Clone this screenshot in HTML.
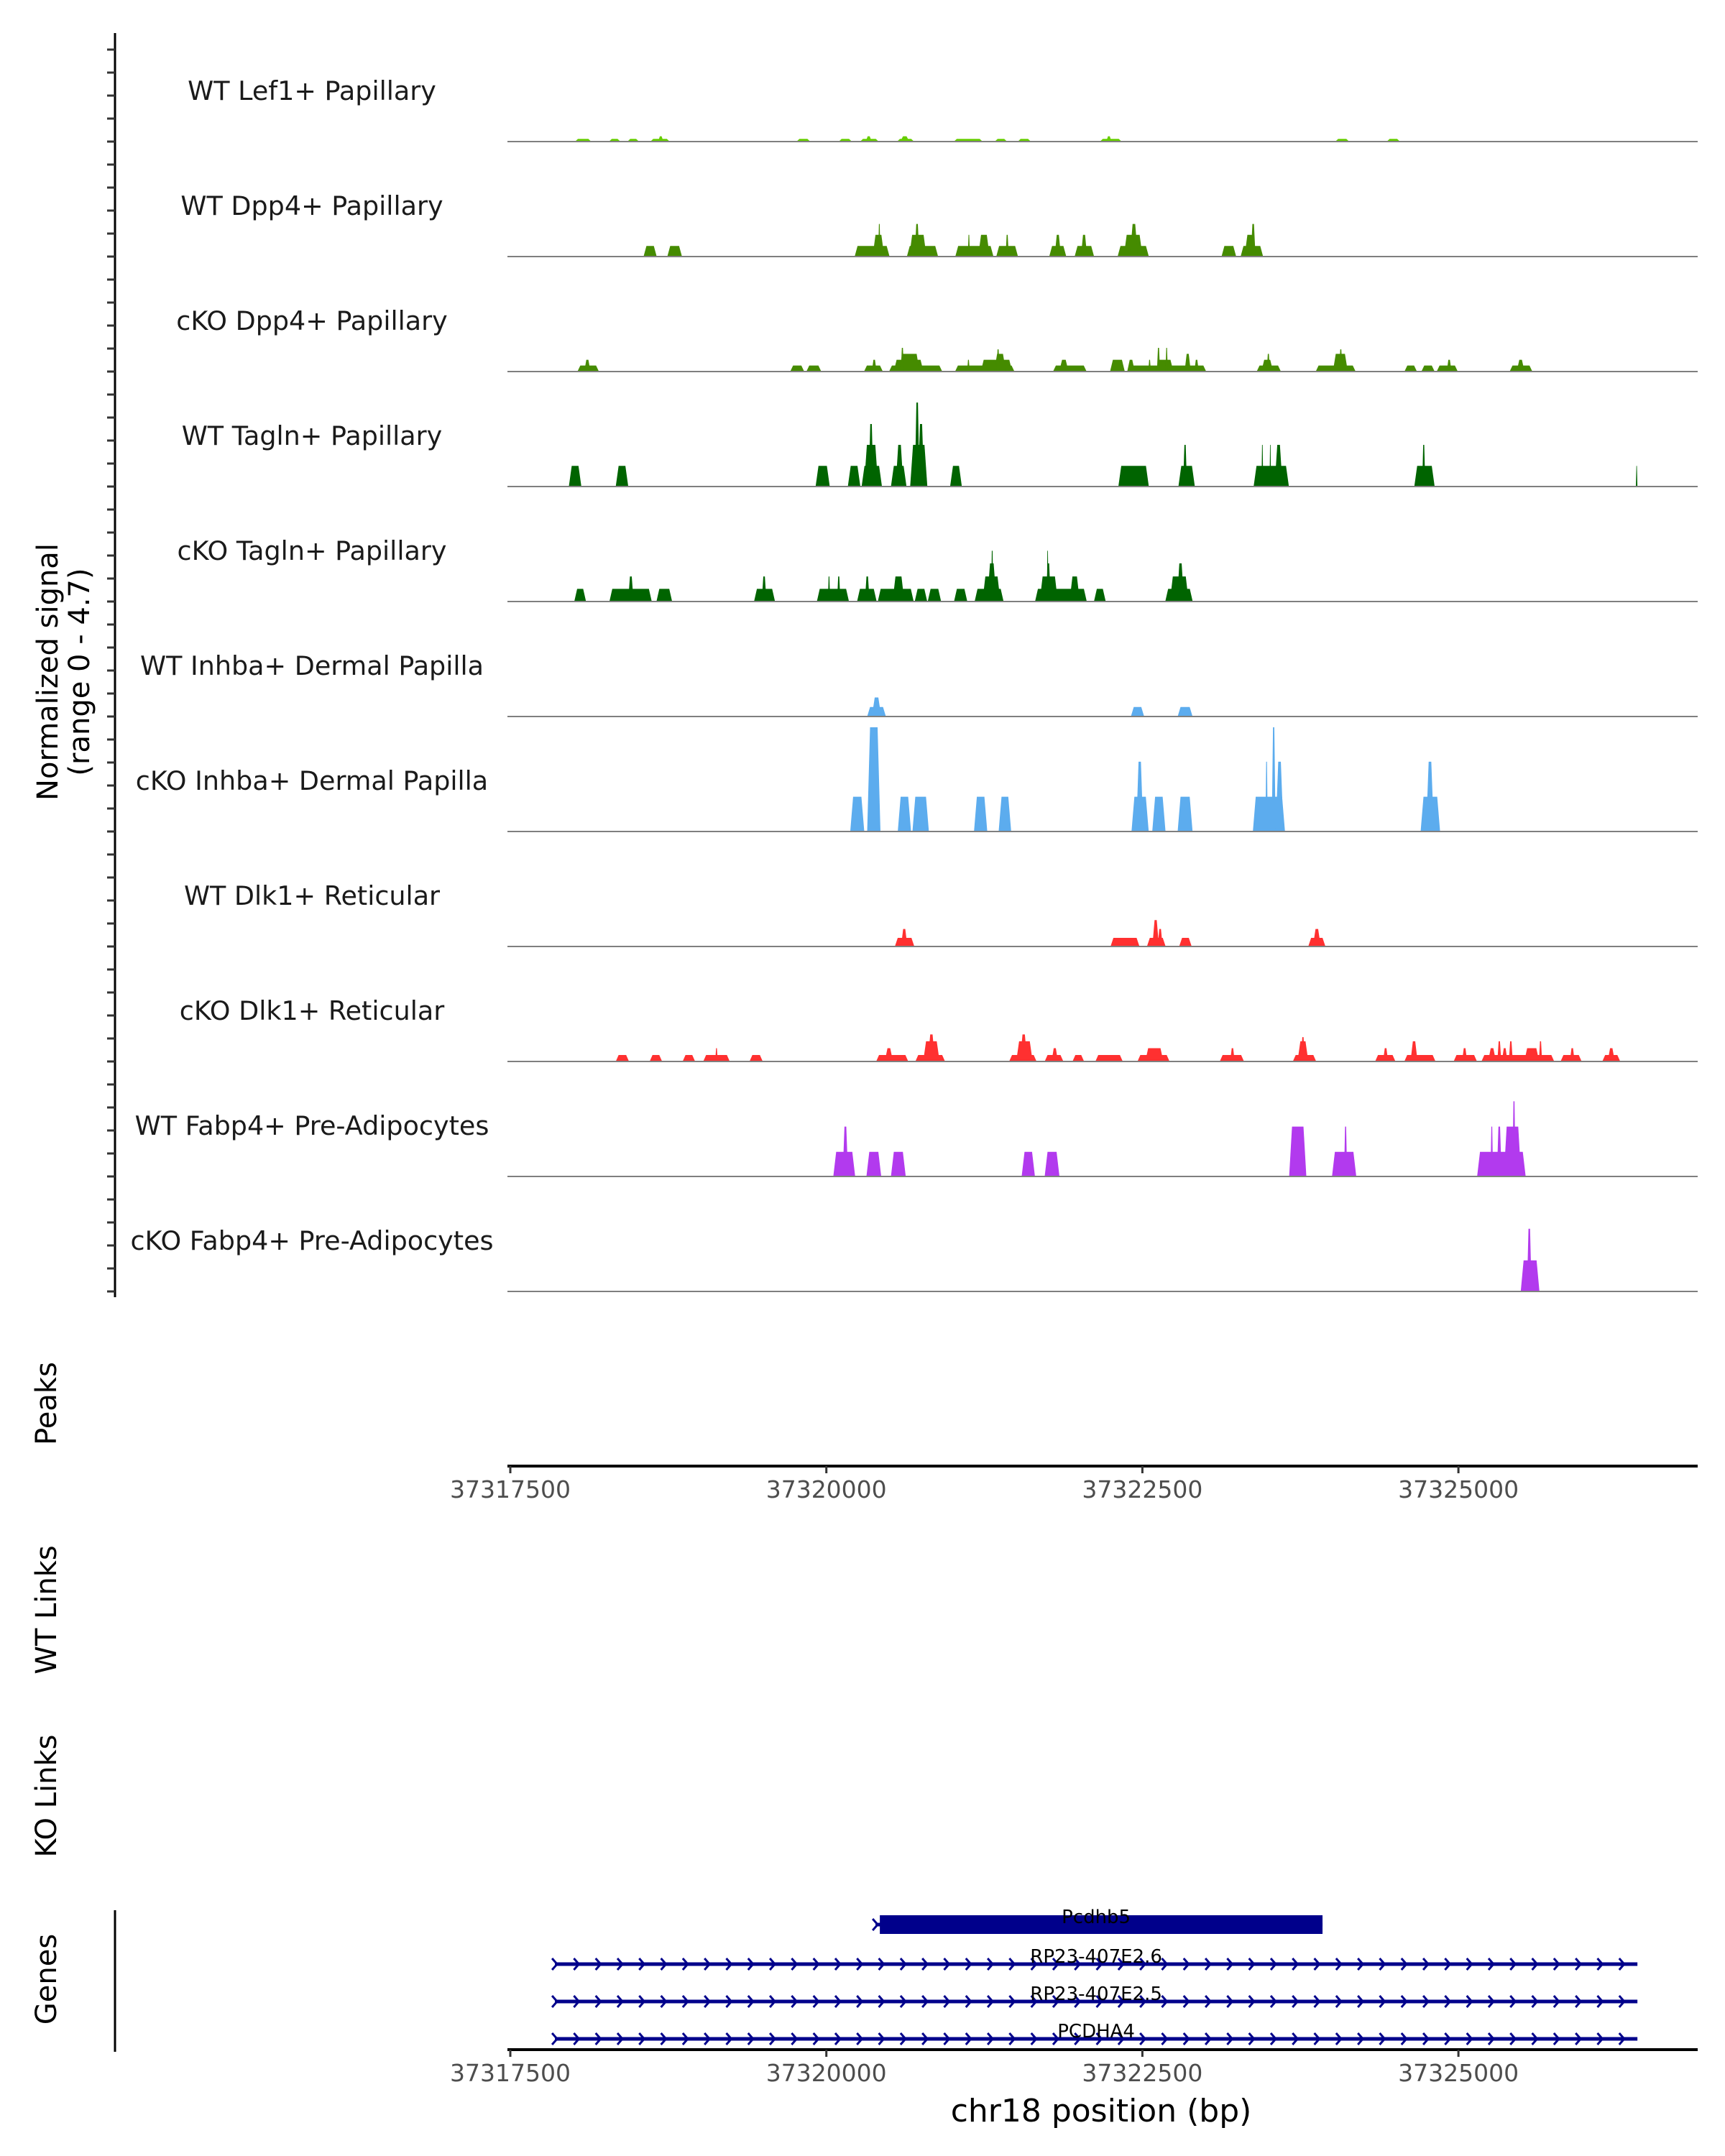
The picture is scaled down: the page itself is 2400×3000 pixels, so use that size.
<!DOCTYPE html>
<html><head><meta charset="utf-8">
<style>
html,body{margin:0;padding:0;background:#fff;}
svg{display:block;}
text{font-family:"DejaVu Sans","Liberation Sans",sans-serif;}
</style></head>
<body>
<svg id="chart" width="2400" height="3000" viewBox="0 0 2400 3000" xmlns="http://www.w3.org/2000/svg">
<rect x="0" y="0" width="2400" height="3000" fill="#fff"/>
<g id="tracks"></g>
<g id="axes"></g>
<g id="genes"></g>
<text x="0" y="0" transform="translate(90,935) rotate(-90)" text-anchor="middle" font-size="40" fill="#000"><tspan x="0" dy="-10">Normalized signal</tspan><tspan x="0" dy="44">(range 0 - 4.7)</tspan></text>
<text transform="translate(78,1953) rotate(-90)" text-anchor="middle" font-size="40" fill="#000">Peaks</text>
<text transform="translate(78,2240) rotate(-90)" text-anchor="middle" font-size="40" fill="#000">WT Links</text>
<text transform="translate(78,2499) rotate(-90)" text-anchor="middle" font-size="40" fill="#000">KO Links</text>
<text transform="translate(78,2754) rotate(-90)" text-anchor="middle" font-size="40" fill="#000">Genes</text>
<text x="1532" y="2952" text-anchor="middle" font-size="44" fill="#000">chr18 position (bp)</text>
</svg>
<script>
const trackNames = ["WT Lef1+ Papillary","WT Dpp4+ Papillary","cKO Dpp4+ Papillary","WT Tagln+ Papillary","cKO Tagln+ Papillary","WT Inhba+ Dermal Papilla","cKO Inhba+ Dermal Papilla","WT Dlk1+ Reticular","cKO Dlk1+ Reticular","WT Fabp4+ Pre-Adipocytes","cKO Fabp4+ Pre-Adipocytes"];
const trackColors = ["#66cd00","#458b00","#458b00","#006400","#006400","#5cacee","#5cacee","#ff3030","#ff3030","#b23aee","#b23aee"];
const xTicks = [37317500,37320000,37322500,37325000];
const xTickLabels = ["37317500","37320000","37322500","37325000"];
const yMax = 4.7;
// peaks: [start bp, end bp, value]
const wtLef1 = [[37318012,37318140,0.12],[37318280,37318371,0.12],[37318426,37318518,0.12],[37318608,37318761,0.12],[37318669,37318711,0.24],[37319764,37319873,0.12],[37320098,37320202,0.12],[37320267,37320414,0.12],[37320311,37320359,0.24],[37320559,37320694,0.12],[37320584,37320657,0.24],[37321009,37321236,0.12],[37321332,37321430,0.12],[37321514,37321618,0.12],[37322164,37322336,0.12],[37322214,37322256,0.24],[37324026,37324136,0.12],[37324433,37324538,0.12]];
const wtDpp4 = [[37318554,37318658,0.48],[37318742,37318858,0.48],[37320224,37320500,0.48],[37320366,37320458,0.98],[37320410,37320428,1.47],[37320637,37320884,0.48],[37320656,37320792,0.98],[37320699,37320736,1.47],[37321020,37321322,0.48],[37321119,37321136,0.98],[37321201,37321292,0.98],[37321344,37321516,0.48],[37321418,37321443,0.98],[37321763,37321898,0.48],[37321806,37321856,0.98],[37321964,37322118,0.48],[37322014,37322063,0.98],[37322304,37322551,0.48],[37322353,37322501,0.98],[37322402,37322464,1.47],[37323126,37323242,0.48],[37323277,37323455,0.48],[37323308,37323389,0.98],[37323358,37323395,1.47]];
const koDpp4 = [[37318031,37318201,0.27],[37318085,37318134,0.53],[37319714,37319825,0.27],[37319842,37319960,0.27],[37320298,37320447,0.27],[37320360,37320397,0.53],[37320496,37320917,0.27],[37320533,37320768,0.53],[37320577,37320737,0.8],[37320589,37320614,1.07],[37321018,37321488,0.27],[37321114,37321134,0.53],[37321222,37321470,0.53],[37321328,37321420,0.8],[37321346,37321371,1.0],[37321793,37322059,0.27],[37321842,37321916,0.53],[37322244,37322361,0.53],[37322380,37323005,0.27],[37322380,37322440,0.53],[37322547,37322567,0.53],[37322609,37322745,0.53],[37322615,37322640,1.07],[37322683,37322701,1.07],[37322834,37322883,0.8],[37322911,37322946,0.53],[37323404,37323596,0.27],[37323441,37323534,0.53],[37323484,37323509,0.8],[37323871,37324187,0.27],[37324007,37324125,0.8],[37324057,37324082,1.0],[37324573,37324672,0.27],[37324707,37324812,0.27],[37324828,37324995,0.27],[37324908,37324945,0.53],[37325405,37325585,0.27],[37325461,37325523,0.53]];
const wtTagln = [[37317963,37318062,0.93],[37318334,37318433,0.93],[37319915,37320027,0.93],[37320170,37320269,0.93],[37320279,37320440,0.93],[37320298,37320410,1.88],[37320335,37320372,2.82],[37320511,37320634,0.93],[37320548,37320610,1.88],[37320663,37320799,1.88],[37320700,37320737,3.79],[37320724,37320774,2.82],[37320979,37321072,0.93],[37322310,37322551,0.93],[37322785,37322915,0.93],[37322822,37322853,1.88],[37323380,37323659,0.93],[37323442,37323456,1.88],[37323506,37323518,1.88],[37323546,37323609,1.88],[37324651,37324812,0.93],[37324713,37324738,1.88],[37326404,37326416,0.93]];
const koTagln = [[37318006,37318099,0.57],[37318284,37318619,0.57],[37318432,37318475,1.13],[37318656,37318780,0.57],[37319428,37319594,0.57],[37319489,37319526,1.13],[37319925,37320179,0.57],[37320012,37320030,1.13],[37320085,37320111,1.13],[37320243,37320398,0.57],[37320305,37320342,1.13],[37320407,37320691,0.57],[37320524,37320617,1.13],[37320699,37320798,0.57],[37320802,37320908,0.57],[37321010,37321115,0.57],[37321173,37321402,0.57],[37321235,37321377,1.13],[37321272,37321346,1.72],[37321303,37321321,2.29],[37321651,37322060,0.57],[37321688,37321831,1.13],[37321738,37321775,1.72],[37321744,37321757,2.29],[37321924,37322005,1.13],[37322117,37322210,0.57],[37322681,37322898,0.57],[37322718,37322866,1.13],[37322774,37322829,1.72]];
const wtInhba = [[37320323,37320471,0.43],[37320360,37320434,0.86],[37322409,37322514,0.43],[37322779,37322897,0.43]];
const koInhba = [[37320189,37320300,1.57],[37320323,37320428,4.7],[37320565,37320670,1.57],[37320681,37320811,1.57],[37321168,37321273,1.57],[37321363,37321462,1.57],[37322414,37322550,1.57],[37322451,37322507,3.15],[37322578,37322683,1.57],[37322779,37322897,1.57],[37323374,37323628,1.57],[37323473,37323492,3.15],[37323523,37323554,4.7],[37323554,37323616,3.15],[37324701,37324855,1.57],[37324744,37324806,3.15]];
const wtDlk1 = [[37320542,37320696,0.39],[37320591,37320641,0.79],[37322248,37322477,0.39],[37322536,37322684,0.39],[37322579,37322631,1.19],[37322621,37322660,0.79],[37322791,37322890,0.39],[37323812,37323948,0.39],[37323849,37323911,0.79]];
const koDlk1 = [[37318334,37318439,0.29],[37318602,37318701,0.29],[37318863,37318962,0.29],[37319026,37319236,0.29],[37319121,37319141,0.6],[37319392,37319497,0.29],[37320394,37320648,0.29],[37320462,37320527,0.6],[37320704,37320939,0.29],[37320766,37320896,0.91],[37320803,37320859,1.22],[37321446,37321663,0.29],[37321502,37321632,0.91],[37321533,37321589,1.22],[37321727,37321875,0.29],[37321782,37321832,0.6],[37321947,37322039,0.29],[37322128,37322345,0.29],[37322461,37322715,0.29],[37322523,37322666,0.6],[37323112,37323304,0.29],[37323195,37323230,0.6],[37323690,37323875,0.29],[37323727,37323813,0.91],[37323755,37323785,1.1],[37324341,37324502,0.29],[37324404,37324444,0.6],[37324572,37324819,0.29],[37324621,37324677,0.91],[37324962,37325147,0.29],[37325029,37325069,0.6],[37325182,37325758,0.29],[37325235,37325297,0.6],[37325308,37325339,0.91],[37325344,37325388,0.6],[37325399,37325430,0.91],[37325521,37325639,0.6],[37325637,37325662,0.91],[37325808,37325975,0.29],[37325882,37325919,0.6],[37326138,37326280,0.29],[37326181,37326237,0.6]];
const wtFabp4 = [[37320055,37320228,1.11],[37320129,37320172,2.25],[37320317,37320434,1.11],[37320511,37320628,1.11],[37321545,37321650,1.11],[37321727,37321844,1.11],[37323661,37323797,2.25],[37324000,37324192,1.11],[37324095,37324120,2.25],[37325148,37325532,1.11],[37325254,37325274,2.25],[37325304,37325342,2.25],[37325359,37325496,2.25],[37325427,37325452,3.39]];
const koFabp4 = [[37325493,37325641,1.4],[37325542,37325579,2.83]];
const trackData = [wtLef1,wtDpp4,koDpp4,wtTagln,koTagln,wtInhba,koInhba,wtDlk1,koDlk1,wtFabp4,koFabp4];
// genes
const geneNames = ["Pcdhb5","RP23-407E2.6","RP23-407E2.5","PCDHA4"];
const geneStarts = [37320389,37317853,37317853,37317853];
const geneEnds = [37323925,37326416,37326416,37326416];
const geneThick = [true,false,false,false];

const NS = "http://www.w3.org/2000/svg";
function xScale(bp){ return 710 + (bp - 37317500) * 439.7 / 2500; }
function baseY(i){ return 197 + 160 * i; }
function yScale(v, i){ return baseY(i) - v / yMax * 145; }
function mk(tag, attrs, parent){ const e=document.createElementNS(NS,tag); for(const k in attrs) e.setAttribute(k,attrs[k]); parent.appendChild(e); return e; }

const tracksG = document.getElementById('tracks');
trackNames.forEach((name,i)=>{
  const g = mk('g',{},tracksG);
  
  
  const lbl = mk('text',{x:434,y:baseY(i)-58,'text-anchor':'middle','font-size':36.5,fill:'#1a1a1a'},g);
  lbl.textContent = name;
  
  
  trackData[i].forEach(p=>{
    const x0=xScale(p[0]), x1=xScale(p[1]);
    const s=Math.min(4,(x1-x0)/3);
    const yb=baseY(i), yt=yScale(p[2],i);
    const poly = mk('polygon',{points:`${x0},${yb} ${x0+s},${yt} ${x1-s},${yt} ${x1},${yb}`,fill:trackColors[i]},g);
    
    
  });
  const bl = mk('line',{x1:706,x2:2362,y1:baseY(i),y2:baseY(i),stroke:'#7f7f7f','stroke-width':2},g);
  
  
});

const axesG = document.getElementById('axes');
const yl = mk('line',{x1:160,x2:160,y1:46,y2:1805,stroke:'#000','stroke-width':3},axesG);


for(let i=0;i<trackNames.length;i++){
  for(let k=0;k<5;k++){
    const y=baseY(i)-32*k;
    const t = mk('line',{x1:149,x2:160,y1:y,y2:y,stroke:'#333','stroke-width':3},axesG);
    
    
  }
}
[2040,2852].forEach((ay,ai)=>{
  const l = mk('line',{x1:706,x2:2362,y1:ay,y2:ay,stroke:'#000','stroke-width':4},axesG);
  
  
  xTicks.forEach((t,j)=>{
    const tk = mk('line',{x1:xScale(t),x2:xScale(t),y1:ay,y2:ay+10,stroke:'#333','stroke-width':3},axesG);
    
    
    const tl = mk('text',{x:xScale(t),y:ay+44,'text-anchor':'middle','font-size':33,fill:'#4d4d4d'},axesG);
    tl.textContent = xTickLabels[j];
    
    
  });
});
const gl = mk('line',{x1:160,x2:160,y1:2658,y2:2855,stroke:'#000','stroke-width':3},axesG);



const genesG = document.getElementById('genes');
const rowY = [2678,2733,2785,2837];
geneNames.forEach((n,i)=>{
  const g = mk('g',{},genesG);
  
  
  const x0=xScale(geneStarts[i]), x1=xScale(geneEnds[i]), y=rowY[i];
  mk('line',{x1:x0,x2:x1,y1:y,y2:y,stroke:'#00008b','stroke-width':5},g);
  const step = geneThick[i] ? 60 : 30.3;
  for(let x=x0; x<=x1+1; x+=step){
    mk('polyline',{points:`${x-4},${y-8} ${x+3},${y} ${x-4},${y+8}`,fill:'none',stroke:'#00008b','stroke-width':3},g);
  }
  if(geneThick[i]){
    mk('rect',{x:x0+6,y:y-13,width:x1-x0-6,height:26,fill:'#00008b'},g);
  }
  const t = mk('text',{x:(xScale(37317853)+xScale(37326416))/2,y:y-2,'text-anchor':'middle','font-size':26,fill:'#000'},g);
  t.textContent = n;
  
  
});
</script>
</body></html>
